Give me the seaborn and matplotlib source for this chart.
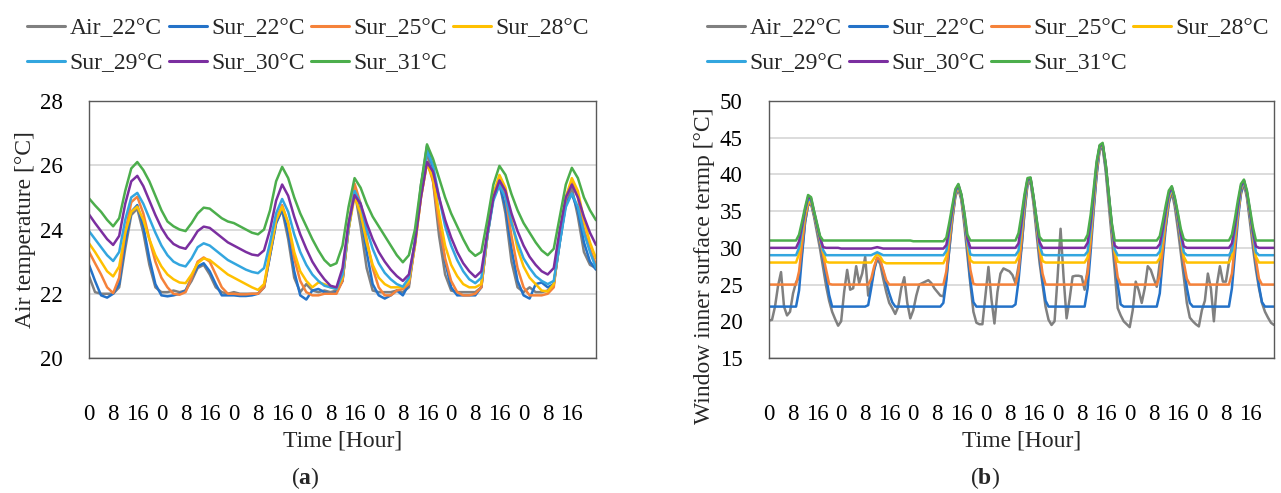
import matplotlib
matplotlib.use("Agg")
import matplotlib.pyplot as plt
import numpy as np
import pandas as pd
import seaborn as sns
from matplotlib.lines import Line2D

# ---------------- data ----------------
SERIES = ["Air_22°C", "Sur_22°C", "Sur_25°C", "Sur_28°C", "Sur_29°C", "Sur_30°C", "Sur_31°C"]
COLORS = ["#808080", "#2472C8", "#F5823A", "#FFC000", "#33A6DF", "#7B2FA0", "#4CAE4C"]

X_TICKS = [0, 8, 16, 24, 32, 40, 48, 56, 64, 72, 80, 88, 96, 104, 112, 120, 128, 136, 144, 152, 160]
X_TICK_LABELS = ["0", "8", "16", "0", "8", "16", "0", "8", "16", "0", "8", "16",
                 "0", "8", "16", "0", "8", "16", "0", "8", "16"]

# (a) air temperature, every 2 hours
HOURS_A = list(range(0, 169, 2))
A_AIR22 = [22.55, 22.05, 22.0, 22.0, 22.0, 22.2, 23.4, 24.45, 24.65, 23.9, 22.9, 22.2,
           22.05, 22.05, 22.1, 22.05, 22.1, 22.4, 22.8, 22.9, 22.6, 22.2, 22.05, 22.0,
           22.05, 22.0, 22.0, 22.0, 22.0, 22.2, 23.2, 24.2, 24.6, 23.7, 22.5, 22.05,
           22.3, 22.1, 22.05, 22.1, 22.05, 22.1, 22.4, 24.0, 25.2, 24.1, 22.8, 22.1,
           22.05, 22.05, 22.05, 22.1, 22.05, 22.2, 23.6, 25.4, 26.4, 25.5, 23.8, 22.6,
           22.1, 22.05, 22.05, 22.05, 22.05, 22.2, 23.8, 25.0, 25.45, 24.5, 23.0, 22.2,
           22.05, 22.2, 22.05, 22.05, 22.1, 22.3, 23.6, 24.8, 25.3, 24.4, 23.3, 22.9,
           22.8]
A_SUR22 = [22.9, 22.4, 21.95, 21.88, 22.0, 22.3, 23.6, 24.55, 24.76, 24.1, 23.1, 22.3,
           21.95, 21.92, 21.95, 22.0, 22.1, 22.5, 22.85, 22.95, 22.7, 22.3, 21.95, 21.95,
           21.95, 21.93, 21.93, 21.95, 22.0, 22.2, 23.2, 24.2, 24.65, 23.9, 22.7, 21.95,
           21.82, 22.1, 22.15, 22.05, 22.0, 22.05, 22.4, 24.0, 25.2, 24.5, 23.3, 22.3,
           21.95, 21.85, 21.95, 22.1, 21.95, 22.3, 23.6, 25.3, 26.6, 25.9, 24.3, 23.0,
           22.2, 21.95, 21.95, 21.95, 21.95, 22.2, 23.8, 25.0, 25.4, 24.7, 23.4, 22.4,
           21.95, 21.85, 22.3, 22.35, 22.2, 22.3, 23.6, 24.8, 25.1, 24.6, 23.6, 23.0,
           22.75]
A_SUR25 = [23.31, 22.95, 22.6, 22.2, 22.02, 22.5, 23.9, 24.85, 25.02, 24.5, 23.7, 23.0,
           22.5, 22.2, 22.0, 21.97, 22.05, 22.5, 23.0, 23.13, 23.0, 22.6, 22.2, 22.0,
           22.0, 21.98, 21.98, 22.0, 22.0, 22.2, 23.3, 24.3, 24.76, 24.2, 23.1, 22.4,
           22.05, 21.95, 21.95, 22.0, 22.0, 22.0, 22.4, 24.1, 25.43, 24.8, 23.7, 22.8,
           22.2, 21.95, 21.95, 22.1, 22.15, 22.3, 23.5, 25.0, 26.1, 25.5, 24.2, 23.1,
           22.4, 22.05, 21.95, 21.95, 22.0, 22.2, 23.8, 25.1, 25.59, 25.0, 23.8, 22.8,
           22.2, 21.95, 21.95, 21.95, 22.0, 22.2, 23.8, 25.0, 25.5, 25.0, 24.0, 23.4,
           22.9]
A_SUR28 = [23.57, 23.3, 23.0, 22.7, 22.54, 22.85, 23.9, 24.55, 24.71, 24.3, 23.7, 23.2,
           22.85, 22.6, 22.45, 22.35, 22.33, 22.6, 22.95, 23.1, 23.05, 22.9, 22.75, 22.6,
           22.5, 22.4, 22.3, 22.2, 22.12, 22.3, 23.3, 24.3, 24.71, 24.2, 23.3, 22.7,
           22.4, 22.2, 22.35, 22.3, 22.2, 22.15, 22.5, 24.0, 25.02, 24.5, 23.6, 22.9,
           22.5, 22.3, 22.2, 22.2, 22.2, 22.4, 23.5, 25.0, 26.05, 25.6, 24.5, 23.5,
           22.9, 22.55, 22.3, 22.2, 22.2, 22.3, 23.8, 25.1, 25.7, 25.3, 24.3, 23.4,
           22.85, 22.5, 22.3, 22.1, 22.07, 22.3, 23.8, 25.0, 25.6, 25.2, 24.3, 23.6,
           23.1]
A_SUR29 = [23.95, 23.7, 23.45, 23.2, 23.02, 23.3, 24.3, 25.0, 25.14, 24.8, 24.35, 23.9,
           23.5, 23.2, 23.0, 22.9, 22.85, 23.1, 23.45, 23.57, 23.5, 23.35, 23.2, 23.05,
           22.95, 22.85, 22.75, 22.68, 22.64, 22.8, 23.6, 24.5, 24.95, 24.55, 23.85, 23.3,
           22.9, 22.6, 22.4, 22.25, 22.2, 22.15, 22.6, 24.1, 25.2, 24.8, 24.0, 23.4,
           22.95, 22.65, 22.45, 22.3, 22.22, 22.5, 23.6, 25.2, 26.45, 26.0, 25.0, 24.1,
           23.5, 23.05, 22.7, 22.45, 22.33, 22.5, 23.8, 24.9, 25.38, 25.0, 24.2, 23.6,
           23.1, 22.8, 22.55, 22.4, 22.3, 22.4, 23.6, 24.7, 25.12, 24.7, 23.9, 23.3,
           22.8]
A_SUR30 = [24.47, 24.2, 23.95, 23.7, 23.52, 23.8, 24.8, 25.5, 25.67, 25.35, 24.9, 24.45,
           24.05, 23.75, 23.55, 23.45, 23.4, 23.65, 23.95, 24.09, 24.05, 23.9, 23.75, 23.6,
           23.5, 23.4, 23.3, 23.22, 23.19, 23.35, 24.0, 24.9, 25.4, 25.05, 24.4, 23.85,
           23.4, 23.0, 22.7, 22.45, 22.25, 22.2, 22.8, 24.2, 25.07, 24.8, 24.2, 23.7,
           23.3, 23.0, 22.75, 22.55, 22.4, 22.6, 23.6, 25.0, 26.1, 25.8, 25.0, 24.3,
           23.75, 23.3, 22.95, 22.7, 22.52, 22.7, 23.9, 25.0, 25.53, 25.2, 24.5, 23.95,
           23.5, 23.15, 22.9, 22.7, 22.6, 22.8, 24.0, 25.0, 25.4, 25.0, 24.4, 23.9,
           23.52]
A_SUR31 = [24.97, 24.75, 24.55, 24.3, 24.1, 24.35, 25.2, 25.9, 26.1, 25.85, 25.5, 25.05,
           24.6, 24.25, 24.1, 24.0, 23.95, 24.2, 24.5, 24.68, 24.65, 24.5, 24.35, 24.25,
           24.2, 24.1, 24.0, 23.9, 23.85, 24.0, 24.6, 25.5, 25.95, 25.6, 25.0, 24.5,
           24.1, 23.7, 23.35, 23.05, 22.87, 22.95, 23.5, 24.7, 25.6, 25.3, 24.8, 24.4,
           24.1, 23.8, 23.5, 23.2, 22.98, 23.2, 24.0, 25.4, 26.65, 26.2, 25.6, 25.0,
           24.5, 24.1, 23.7, 23.35, 23.18, 23.3, 24.3, 25.4, 25.98, 25.7, 25.1, 24.6,
           24.2, 23.9, 23.6, 23.35, 23.2, 23.4, 24.4, 25.4, 25.92, 25.6, 25.0, 24.6,
           24.29]

# (b) window inner surface temperature, hourly
HOURS_B = list(range(0, 169))
B_AIR22 = [20.1, 20.2, 22.0, 24.8, 26.7, 22.0, 20.8, 21.3, 23.8, 25.3, 26.0, 29.5, 33.5, 35.8, 36.0, 34.2, 32.0, 29.8, 27.3, 24.8, 22.8, 21.3, 20.3, 19.4,
           20.0, 24.0, 27.0, 24.3, 24.5, 27.5, 25.2, 26.5, 28.8, 23.5, 25.0, 27.2, 28.5, 27.8, 25.8, 24.0, 22.5, 21.8, 21.0, 22.0, 24.5, 26.0, 22.5, 20.4,
           21.5, 23.5, 25.0, 25.2, 25.4, 25.6, 25.2, 24.5, 24.0, 23.5, 23.4, 26.0, 29.8, 33.8, 37.0, 38.0, 36.5, 33.0, 29.0, 25.0, 21.3, 19.8, 19.6, 19.6,
           23.5, 27.4, 23.0, 19.7, 24.0, 26.5, 27.2, 27.0, 26.8, 26.3, 25.2, 27.5, 30.0, 34.8, 38.6, 39.0, 36.0, 32.0, 28.0, 25.0, 22.0, 20.2, 19.5, 20.0,
           26.0, 32.6, 26.0, 20.4, 23.0, 26.1, 26.2, 26.2, 26.1, 24.3, 27.0, 31.0, 35.5, 40.0, 43.3, 43.6, 40.5, 36.0, 31.5, 27.0, 21.8, 20.8, 20.0, 19.6,
           19.2, 21.5, 25.4, 24.2, 22.5, 24.5, 27.5, 27.0, 25.8, 24.7, 28.0, 30.5, 33.0, 36.0, 37.6, 35.6, 32.6, 29.3, 26.0, 22.5, 20.5, 20.0, 19.6, 19.3,
           21.5, 22.8, 26.5, 24.5, 20.0, 25.0, 27.5, 25.4, 25.4, 28.0, 30.2, 31.5, 34.5, 37.3, 38.7, 36.8, 33.5, 30.0, 27.0, 24.5, 22.5, 21.3, 20.5, 19.8,
           19.5]
B_SUR22 = [22.0, 22.0, 22.0, 22.0, 22.0, 22.0, 22.0, 22.0, 22.0, 22.0, 24.2, 29.0, 33.5, 35.9, 36.1, 34.5, 32.7, 30.8, 28.6, 26.2, 23.6, 22.0, 22.0, 22.0,
           22.0, 22.0, 22.0, 22.0, 22.0, 22.0, 22.0, 22.0, 22.0, 22.2, 24.5, 27.0, 28.6, 28.2, 26.8, 25.2, 23.8, 22.6, 22.0, 22.0, 22.0, 22.0, 22.0, 22.0,
           22.0, 22.0, 22.0, 22.0, 22.0, 22.0, 22.0, 22.0, 22.0, 22.0, 22.5, 25.5, 30.0, 34.0, 37.2, 38.2, 36.8, 33.8, 30.0, 25.5, 22.6, 22.0, 22.0, 22.0,
           22.0, 22.0, 22.0, 22.0, 22.0, 22.0, 22.0, 22.0, 22.0, 22.0, 22.3, 25.5, 30.0, 35.0, 38.8, 39.2, 36.5, 33.0, 29.0, 25.5, 22.8, 22.0, 22.0, 22.0,
           22.0, 22.0, 22.0, 22.0, 22.0, 22.0, 22.0, 22.0, 22.0, 22.0, 24.5, 29.5, 35.0, 40.0, 43.5, 43.9, 41.0, 36.8, 32.5, 28.5, 25.0, 22.3, 22.0, 22.0,
           22.0, 22.0, 22.0, 22.0, 22.0, 22.0, 22.0, 22.0, 22.0, 22.0, 23.8, 28.5, 32.8, 36.3, 37.9, 36.3, 33.8, 30.8, 27.5, 24.6, 22.5, 22.0, 22.0, 22.0,
           22.0, 22.0, 22.0, 22.0, 22.0, 22.0, 22.0, 22.0, 22.0, 22.0, 24.5, 29.2, 33.8, 37.6, 38.9, 37.2, 34.3, 31.0, 27.8, 24.8, 22.6, 22.0, 22.0, 22.0,
           22.0]
B_SUR25 = [25.0, 25.0, 25.0, 25.0, 25.0, 25.0, 25.0, 25.0, 25.0, 25.0, 26.8, 30.5, 34.0, 36.0, 36.2, 34.6, 32.8, 31.0, 29.0, 27.0, 25.1, 25.0, 25.0, 25.0,
           25.0, 25.0, 25.0, 25.0, 25.0, 25.0, 25.0, 25.0, 25.0, 25.0, 25.8, 27.5, 28.7, 28.3, 27.0, 25.6, 25.0, 25.0, 25.0, 25.0, 25.0, 25.0, 25.0, 25.0,
           25.0, 25.0, 25.0, 25.0, 25.0, 25.0, 25.0, 25.0, 25.0, 25.0, 25.0, 26.8, 30.8, 34.3, 37.3, 38.3, 36.9, 34.0, 30.5, 27.0, 25.1, 25.0, 25.0, 25.0,
           25.0, 25.0, 25.0, 25.0, 25.0, 25.0, 25.0, 25.0, 25.0, 25.0, 25.0, 26.8, 31.0, 35.6, 39.0, 39.3, 36.6, 33.3, 29.5, 26.5, 25.0, 25.0, 25.0, 25.0,
           25.0, 25.0, 25.0, 25.0, 25.0, 25.0, 25.0, 25.0, 25.0, 25.0, 26.5, 30.8, 35.8, 40.5, 43.6, 44.0, 41.2, 37.0, 32.8, 29.0, 26.0, 25.0, 25.0, 25.0,
           25.0, 25.0, 25.0, 25.0, 25.0, 25.0, 25.0, 25.0, 25.0, 25.0, 26.2, 29.8, 33.5, 36.6, 38.0, 36.4, 34.0, 31.0, 28.0, 25.8, 25.0, 25.0, 25.0, 25.0,
           25.0, 25.0, 25.0, 25.0, 25.0, 25.0, 25.0, 25.0, 25.0, 25.0, 26.5, 30.5, 34.4, 37.9, 39.0, 37.3, 34.5, 31.3, 28.3, 25.8, 25.0, 25.0, 25.0, 25.0,
           25.0]
B_SUR28 = [28.0, 28.0, 28.0, 28.0, 28.0, 28.0, 28.0, 28.0, 28.0, 28.0, 29.2, 32.0, 34.6, 36.2, 36.3, 34.7, 32.9, 31.2, 29.5, 28.1, 28.0, 28.0, 28.0, 28.0,
           28.0, 28.0, 28.0, 28.0, 28.0, 28.0, 28.0, 28.0, 28.0, 28.0, 28.0, 28.6, 29.2, 28.8, 28.1, 27.9, 27.9, 27.9, 27.9, 27.9, 27.9, 27.9, 27.9, 27.9,
           27.9, 27.9, 27.9, 27.9, 27.9, 27.9, 27.9, 27.9, 27.9, 27.9, 27.9, 28.8, 31.8, 34.8, 37.5, 38.4, 37.0, 34.2, 30.8, 28.3, 28.0, 28.0, 28.0, 28.0,
           28.0, 28.0, 28.0, 28.0, 28.0, 28.0, 28.0, 28.0, 28.0, 28.0, 28.0, 28.8, 32.2, 36.2, 39.1, 39.4, 36.7, 33.5, 30.0, 28.2, 28.0, 28.0, 28.0, 28.0,
           28.0, 28.0, 28.0, 28.0, 28.0, 28.0, 28.0, 28.0, 28.0, 28.0, 28.7, 32.0, 36.5, 41.0, 43.8, 44.0, 41.3, 37.2, 33.0, 29.5, 28.1, 28.0, 28.0, 28.0,
           28.0, 28.0, 28.0, 28.0, 28.0, 28.0, 28.0, 28.0, 28.0, 28.0, 28.6, 31.2, 34.3, 36.9, 38.1, 36.5, 34.2, 31.4, 28.8, 28.0, 28.0, 28.0, 28.0, 28.0,
           28.0, 28.0, 28.0, 28.0, 28.0, 28.0, 28.0, 28.0, 28.0, 28.0, 28.8, 31.8, 35.0, 38.1, 39.1, 37.4, 34.7, 31.6, 28.8, 28.0, 28.0, 28.0, 28.0, 28.0,
           28.0]
B_SUR29 = [29.0, 29.0, 29.0, 29.0, 29.0, 29.0, 29.0, 29.0, 29.0, 29.0, 30.0, 32.5, 35.0, 36.6, 36.5, 34.8, 33.0, 31.3, 29.7, 29.0, 29.0, 29.0, 29.0, 29.0,
           29.0, 29.0, 29.0, 29.0, 29.0, 29.0, 29.0, 29.0, 29.0, 29.0, 29.0, 29.2, 29.4, 29.2, 29.0, 29.0, 29.0, 29.0, 29.0, 29.0, 29.0, 29.0, 29.0, 29.0,
           29.0, 29.0, 29.0, 29.0, 29.0, 29.0, 29.0, 29.0, 29.0, 29.0, 29.0, 29.6, 32.2, 35.0, 37.6, 38.5, 37.1, 34.4, 31.0, 29.1, 29.0, 29.0, 29.0, 29.0,
           29.0, 29.0, 29.0, 29.0, 29.0, 29.0, 29.0, 29.0, 29.0, 29.0, 29.0, 29.6, 32.8, 36.5, 39.2, 39.4, 36.8, 33.7, 30.4, 29.1, 29.0, 29.0, 29.0, 29.0,
           29.0, 29.0, 29.0, 29.0, 29.0, 29.0, 29.0, 29.0, 29.0, 29.0, 29.5, 32.6, 36.9, 41.2, 43.8, 44.1, 41.3, 37.3, 33.2, 29.8, 29.0, 29.0, 29.0, 29.0,
           29.0, 29.0, 29.0, 29.0, 29.0, 29.0, 29.0, 29.0, 29.0, 29.0, 29.5, 31.8, 34.7, 37.1, 38.2, 36.6, 34.3, 31.6, 29.4, 29.0, 29.0, 29.0, 29.0, 29.0,
           29.0, 29.0, 29.0, 29.0, 29.0, 29.0, 29.0, 29.0, 29.0, 29.0, 29.6, 32.3, 35.3, 38.2, 39.1, 37.5, 34.8, 31.9, 29.4, 29.0, 29.0, 29.0, 29.0, 29.0,
           29.0]
B_SUR30 = [30.0, 30.0, 30.0, 30.0, 30.0, 30.0, 30.0, 30.0, 30.0, 30.0, 30.9, 33.0, 35.2, 36.9, 36.7, 34.9, 33.1, 31.4, 30.1, 30.0, 30.0, 30.0, 30.0, 30.0,
           29.9, 29.9, 29.9, 29.9, 29.9, 29.9, 29.9, 29.9, 29.9, 29.9, 29.9, 30.0, 30.1, 30.0, 29.9, 29.9, 29.9, 29.9, 29.9, 29.9, 29.9, 29.9, 29.9, 29.9,
           29.9, 29.9, 29.9, 29.9, 29.9, 29.9, 29.9, 29.9, 29.9, 29.9, 29.9, 30.4, 32.8, 35.3, 37.8, 38.6, 37.2, 34.6, 31.3, 30.0, 30.0, 30.0, 30.0, 30.0,
           30.0, 30.0, 30.0, 30.0, 30.0, 30.0, 30.0, 30.0, 30.0, 30.0, 30.0, 30.6, 33.5, 36.9, 39.3, 39.5, 36.9, 33.8, 30.8, 30.0, 30.0, 30.0, 30.0, 30.0,
           30.0, 30.0, 30.0, 30.0, 30.0, 30.0, 30.0, 30.0, 30.0, 30.0, 30.7, 33.5, 37.4, 41.5, 43.9, 44.1, 41.4, 37.4, 33.3, 30.3, 30.0, 30.0, 30.0, 30.0,
           30.0, 30.0, 30.0, 30.0, 30.0, 30.0, 30.0, 30.0, 30.0, 30.0, 30.5, 32.6, 35.2, 37.4, 38.3, 36.7, 34.5, 32.0, 30.2, 30.0, 30.0, 30.0, 30.0, 30.0,
           30.0, 30.0, 30.0, 30.0, 30.0, 30.0, 30.0, 30.0, 30.0, 30.0, 30.6, 33.0, 35.8, 38.4, 39.2, 37.6, 35.0, 32.2, 30.2, 30.0, 30.0, 30.0, 30.0, 30.0,
           30.0]
B_SUR31 = [31.0, 31.0, 31.0, 31.0, 31.0, 31.0, 31.0, 31.0, 31.0, 31.0, 31.8, 33.6, 35.5, 37.2, 36.9, 35.0, 33.3, 31.6, 31.0, 31.0, 31.0, 31.0, 31.0, 31.0,
           31.0, 31.0, 31.0, 31.0, 31.0, 31.0, 31.0, 31.0, 31.0, 31.0, 31.0, 31.0, 31.0, 31.0, 31.0, 31.0, 31.0, 31.0, 31.0, 31.0, 31.0, 31.0, 31.0, 31.0,
           30.9, 30.9, 30.9, 30.9, 30.9, 30.9, 30.9, 30.9, 30.9, 30.9, 30.9, 31.4, 33.5, 35.8, 38.0, 38.7, 37.3, 34.8, 31.8, 31.0, 31.0, 31.0, 31.0, 31.0,
           31.0, 31.0, 31.0, 31.0, 31.0, 31.0, 31.0, 31.0, 31.0, 31.0, 31.0, 32.0, 34.5, 37.3, 39.5, 39.6, 37.0, 34.0, 31.5, 31.0, 31.0, 31.0, 31.0, 31.0,
           31.0, 31.0, 31.0, 31.0, 31.0, 31.0, 31.0, 31.0, 31.0, 31.0, 31.8, 34.5, 38.0, 41.8, 44.0, 44.3, 41.5, 37.5, 33.5, 31.0, 31.0, 31.0, 31.0, 31.0,
           31.0, 31.0, 31.0, 31.0, 31.0, 31.0, 31.0, 31.0, 31.0, 31.0, 31.6, 33.6, 35.8, 37.8, 38.4, 36.9, 34.8, 32.6, 31.2, 31.0, 31.0, 31.0, 31.0, 31.0,
           31.0, 31.0, 31.0, 31.0, 31.0, 31.0, 31.0, 31.0, 31.0, 31.0, 31.8, 34.0, 36.5, 38.7, 39.3, 37.8, 35.3, 32.8, 31.0, 31.0, 31.0, 31.0, 31.0, 31.0,
           31.0]

A_VALUES = [A_AIR22, A_SUR22, A_SUR25, A_SUR28, A_SUR29, A_SUR30, A_SUR31]
B_VALUES = [B_AIR22, B_SUR22, B_SUR25, B_SUR28, B_SUR29, B_SUR30, B_SUR31]

df_a = pd.concat([pd.DataFrame({"Hour": HOURS_A, "Temp": v, "Series": s})
                  for s, v in zip(SERIES, A_VALUES)], ignore_index=True)
df_b = pd.concat([pd.DataFrame({"Hour": HOURS_B, "Temp": v, "Series": s})
                  for s, v in zip(SERIES, B_VALUES)], ignore_index=True)

# ---------------- style ----------------
sns.set_style("white")
plt.rcParams["font.family"] = ["Liberation Serif", "DejaVu Serif"]
plt.rcParams["mathtext.fontset"] = "custom"
plt.rcParams["mathtext.rm"] = "Liberation Serif"
plt.rcParams["mathtext.bf"] = "Liberation Serif:bold"

FS_TICK = 16.5
FS_LAB = 17
SPINE = "#595959"
GRID = "#D9D9D9"

fig = plt.figure(figsize=(12.81, 4.93), dpi=100)
W, H = 1281.0, 493.0
ax_a = fig.add_axes([89 / W, 1 - 358 / H, (596 - 89) / W, (358 - 101) / H])
ax_b = fig.add_axes([769 / W, 1 - 358 / H, (1274 - 769) / W, (358 - 101) / H])

for ax, df in ((ax_a, df_a), (ax_b, df_b)):
    sns.lineplot(data=df, x="Hour", y="Temp", hue="Series", hue_order=SERIES,
                 palette=COLORS, linewidth=1.8, estimator=None, sort=False,
                 legend=False, ax=ax)
    ax.set_xlim(0, 168)
    ax.set_xticks(X_TICKS)
    ax.set_xticklabels(X_TICK_LABELS)
    ax.grid(axis="y", color=GRID, linewidth=1.3)
    ax.grid(axis="x", visible=False)
    ax.set_axisbelow(True)
    for sp in ax.spines.values():
        sp.set_visible(True)
        sp.set_color(SPINE)
        sp.set_linewidth(1.0)
    ax.tick_params(axis="both", direction="in", length=5, width=1, color=SPINE,
                   labelsize=FS_TICK, labelcolor="black")
    ax.tick_params(axis="y", pad=19)
    ax.tick_params(axis="x", pad=33)
    ax.set_xlabel("Time [Hour]", fontsize=FS_LAB, labelpad=4)

ax_a.set_ylim(20, 28)
ax_a.set_yticks([20, 22, 24, 26, 28])
ax_a.set_ylabel("Air temperature [°C]", fontsize=FS_LAB)
ax_a.yaxis.set_label_coords((36 - 89) / 507, 0.5)

ax_b.set_ylim(15, 50)
ax_b.set_yticks([15, 20, 25, 30, 35, 40, 45, 50])
ax_b.set_ylabel("Window inner surface termp [°C]", fontsize=FS_LAB)
ax_b.yaxis.set_label_coords((715 - 769) / 505, 0.358)

# legends (row-major order: 4 on the first row, 3 on the second)
order = [0, 4, 1, 5, 2, 6, 3]
handles = [Line2D([0], [0], color=COLORS[i], lw=2.2) for i in order]
labels = [SERIES[i] for i in order]
for x0 in (27 / W, 707 / W):
    fig.legend(handles, labels, loc="upper left", bbox_to_anchor=(x0, 1 - 18 / H),
               ncol=4, frameon=False, fontsize=FS_LAB, borderaxespad=0, borderpad=0,
               handlelength=1.6, handletextpad=0.2, columnspacing=0.25,
               labelspacing=0.57)

fig.text(305 / W, 1 - 478 / H, r"($\mathbf{a}$)", fontsize=FS_LAB, ha="center", va="center")
fig.text(985 / W, 1 - 478 / H, r"($\mathbf{b}$)", fontsize=FS_LAB, ha="center", va="center")

fig.savefig("out.png", dpi=100, facecolor="white")
